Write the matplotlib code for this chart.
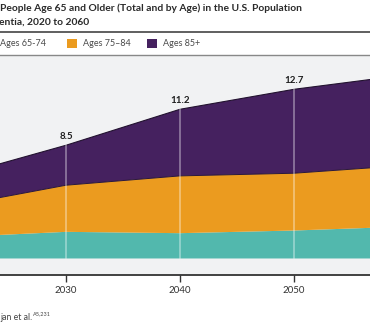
import matplotlib.pyplot as plt
from matplotlib.patches import Rectangle

# Projected people 65+ with Alzheimer's dementia, millions, stacked by age group
years = [2020, 2030, 2040, 2050, 2060]
ages_65_74 = [1.6, 2.0, 1.9, 2.1, 2.4]
ages_75_84 = [2.3, 3.5, 4.3, 4.3, 4.6]
ages_85_plus = [2.2, 3.0, 5.0, 6.3, 6.8]
totals = [6.1, 8.5, 11.2, 12.7, 13.8]

series_labels = ["Ages 65-74", "Ages 75–84", "Ages 85+"]
series_colors = ["#52b8ad", "#eb9b1f", "#45215f"]

title_lines = ["People Age 65 and Older (Total and by Age) in the U.S. Population",
               "entia, 2020 to 2060"]
source_text = "jan et al."
source_refs = "A5,231"

W, H, DPI = 370, 332, 100
plt.rcParams['font.family'] = ['Lato', 'DejaVu Sans']

fig = plt.figure(figsize=(W / DPI, H / DPI), dpi=DPI)
fig.patch.set_facecolor("white")


def px(x, y):
    # figure pixel (top-left origin) -> figure fraction
    return x / W, 1 - y / H


# plot area spans wider than the figure, so the ends of the series are cut off
ax_left, ax_right, ax_top, ax_bottom = -70.8, 430.8, 56, 275
ax = fig.add_axes([ax_left / W, 1 - ax_bottom / H,
                   (ax_right - ax_left) / W, (ax_bottom - ax_top) / H])
ax.set_facecolor("#f1f2f3")
ax.set_xlim(2018, 2062)
ax.set_ylim(-1.24, 15.2)

base = [0] * len(years)
tops = []
for vals, color in zip([ages_65_74, ages_75_84, ages_85_plus], series_colors):
    top = [b + v for b, v in zip(base, vals)]
    ax.fill_between(years, base, top, color=color, linewidth=0, zorder=2)
    tops.append(top)
    base = top

# thin dark seams on the upper two bands
ax.plot(years, tops[1], color="#2b1838", lw=0.7, zorder=3)
ax.plot(years, tops[2], color="#22122f", lw=0.8, zorder=3)

# light vertical drop lines and the total labels
for yr, tot in zip(years, totals):
    ax.plot([yr, yr], [0, tot], color="white", alpha=0.45, lw=1.1, zorder=4)
    ax.annotate(f"{tot}", (yr, tot), xytext=(0, 3), textcoords="offset points",
                ha="center", va="bottom", fontsize=7, fontweight="bold",
                color="#1e1e1e", zorder=5)

for side in ["left", "right", "top"]:
    ax.spines[side].set_visible(False)
ax.spines["bottom"].set_color("#333333")
ax.spines["bottom"].set_linewidth(1.3)
ax.set_yticks([])
ax.set_xticks(years)
ax.tick_params(axis="x", length=5, width=1, color="#333333",
               labelsize=7, labelcolor="#333333", pad=3)

# title (two lines)
fig.text(*px(0, 8), title_lines[0], ha="left", va="center", fontsize=7.4,
         fontweight="bold", color="#2a2a2a")
fig.text(*px(-1, 22), title_lines[1], ha="left", va="center", fontsize=7.4,
         fontweight="bold", color="#2a2a2a")

# legend band between two rules
fig.add_artist(plt.Line2D([0, 1], [1 - 32 / H] * 2, color="#444444", lw=1.2))
fig.add_artist(plt.Line2D([0, 1], [1 - 55 / H] * 2, color="#888888", lw=1.0))
legend_x = [-16, 67, 147]
for lx, lab, col in zip(legend_x, series_labels, series_colors):
    x0, y0 = px(lx, 48)
    fig.add_artist(Rectangle((x0, y0), 10 / W, 9 / H, transform=fig.transFigure,
                             facecolor=col, edgecolor="none"))
    fig.text(*px(lx + 16, 44), lab, ha="left", va="center", fontsize=6.5,
             color="#4a4a4a")

# source note
fig.text(*px(0, 317), source_text, ha="left", va="center", fontsize=6.3,
         color="#444444")
fig.text(*px(33, 314), source_refs, ha="left", va="center", fontsize=4,
         color="#444444")

fig.savefig("out.png", dpi=DPI)
